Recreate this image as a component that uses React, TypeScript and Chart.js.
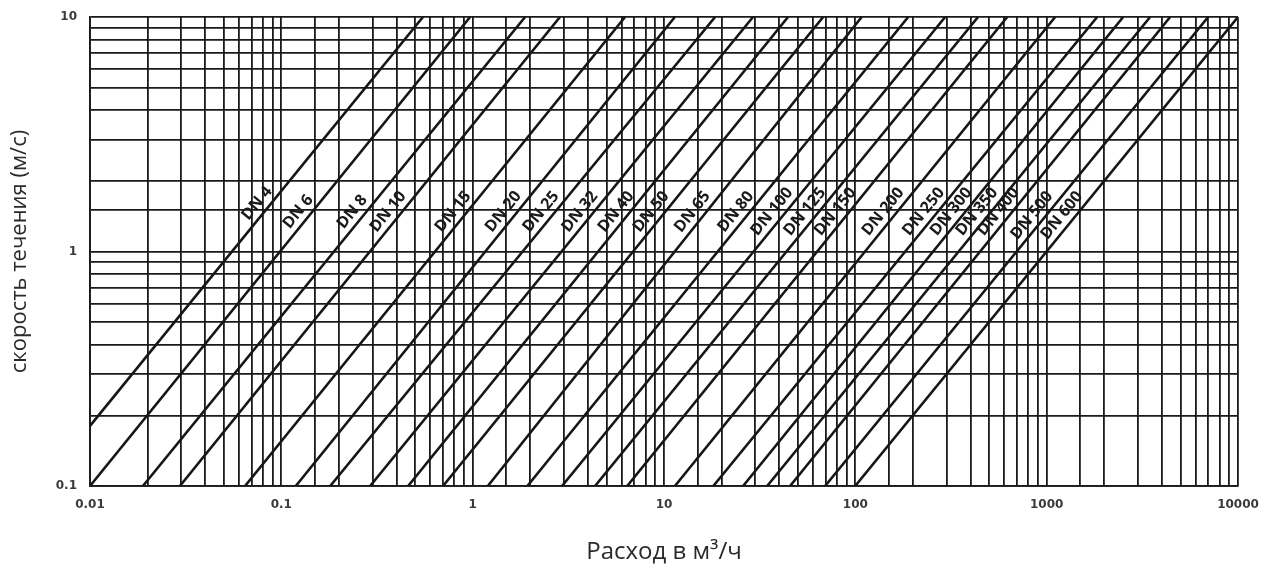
import React, { useEffect, useRef } from "react";
import { Chart, registerables } from "chart.js";

Chart.register(...registerables);

// Nominal diameters (labels of the lines)
const dnLabels = [
  "DN 4", "DN 6", "DN 8", "DN 10", "DN 15", "DN 20", "DN 25", "DN 32", "DN 40", "DN 50",
  "DN 65", "DN 80", "DN 100", "DN 125", "DN 150", "DN 200", "DN 250", "DN 300", "DN 350",
  "DN 400", "DN 500", "DN 600",
];

// Flow (m³/h) read where each line meets v = 0.1 m/s
const flowAtLowVelocity = [
  0.00555, 0.0100, 0.0189, 0.0295, 0.0646, 0.119, 0.180, 0.291, 0.460, 0.700,
  1.20, 1.93, 2.93, 4.36, 6.42, 11.4, 18.1, 25.9, 34.6, 45.6, 69.5, 99.8,
];

// Flow (m³/h) read where each line meets v = 10 m/s
const flowAtHighVelocity = [
  0.55, 0.97, 1.88, 2.86, 6.26, 11.4, 18.5, 29.2, 44.5, 67.9,
  108, 189, 295, 438, 622, 1108, 1837, 2512, 3475, 4422, 6987, 10000,
];

// Velocities at the two ends of each line
const velocityEnds = [0.1, 10];

// Velocity at which each DN label sits along its line
const labelVelocity = [
  1.5, 1.38, 1.38, 1.38, 1.38, 1.38, 1.38, 1.38, 1.38, 1.38,
  1.38, 1.38, 1.38, 1.38, 1.38, 1.38, 1.38, 1.38, 1.38, 1.38, 1.33, 1.33,
];

// Axis ranges
const flowAxis = [0.01, 10000];
const velocityAxis = [0.1, 10];

const xTitle = "Расход в м³/ч";
const yTitle = "скорость течения (м/с)";

const isDecade = (v: number) => {
  const l = Math.log10(v);
  return Math.abs(l - Math.round(l)) < 1e-6;
};
const fmt = (v: number) => {
  const p = Math.round(Math.log10(v));
  return p < 0 ? Math.pow(10, p).toFixed(-p) : String(Math.pow(10, p));
};

const labelPlugin = {
  id: "dnLabels",
  afterDatasetsDraw(chart: any) {
    const ctx = chart.ctx;
    const yScale = chart.scales.y;
    const area = chart.chartArea;
    chart.data.datasets.forEach((_ds: any, i: number) => {
      const meta = chart.getDatasetMeta(i);
      const p0 = meta.data[0];
      const p1 = meta.data[1];
      const yL = yScale.getPixelForValue(labelVelocity[i]);
      const t = (yL - p0.y) / (p1.y - p0.y);
      const x = p0.x + t * (p1.x - p0.x);
      const a = Math.atan2(p1.y - p0.y, p1.x - p0.x);
      const off = 11;
      const cx = x + Math.sin(a) * off;
      const cy = yL - Math.cos(a) * off;
      ctx.save();
      ctx.beginPath();
      ctx.rect(area.left, area.top, area.right - area.left, area.bottom - area.top);
      ctx.clip();
      ctx.translate(cx, cy);
      ctx.rotate(a);
      ctx.font = "bold 16px Open Sans, sans-serif";
      ctx.fillStyle = "#1a1a1a";
      ctx.textAlign = "center";
      ctx.textBaseline = "middle";
      ctx.fillText(dnLabels[i], 0, 0);
      ctx.restore();
    });
  },
};

const noOverflow = (s: any) => {
  s.paddingLeft = 0;
  s.paddingRight = 0;
  s.paddingTop = 0;
  s.paddingBottom = 0;
};

export default function App() {
  const ref = useRef<HTMLCanvasElement | null>(null);

  useEffect(() => {
    if (!ref.current) return;
    const datasets = dnLabels.map((label, i) => ({
      label,
      data: [
        { x: flowAtLowVelocity[i], y: velocityEnds[0] },
        { x: flowAtHighVelocity[i], y: velocityEnds[1] },
      ],
      borderColor: "#161616",
      borderWidth: 2.6,
      pointRadius: 0,
      fill: false,
      tension: 0,
    }));

    const gridColor = "#1a1a1a";
    const chart = new Chart(ref.current, {
      type: "line",
      data: { datasets },
      plugins: [labelPlugin],
      options: {
        animation: false,
        responsive: false,
        devicePixelRatio: 1,
        layout: { padding: { top: 17, right: 25, left: 0, bottom: 0 } },
        plugins: {
          legend: { display: false },
          tooltip: { enabled: false },
        },
        scales: {
          x: {
            type: "logarithmic",
            min: flowAxis[0],
            max: flowAxis[1],
            afterFit: (s: any) => { s.height = 81; noOverflow(s); },
            border: { display: true, color: gridColor, width: 1.8 },
            grid: { color: gridColor, lineWidth: 1.8, drawTicks: false },
            ticks: {
              autoSkip: false,
              maxRotation: 0,
              padding: 12,
              color: "#3a3a3a",
              font: { family: "DejaVu Sans, sans-serif", size: 12, weight: "bold" },
              callback: (v: any) => (isDecade(Number(v)) ? fmt(Number(v)) : ""),
            },
            title: {
              display: true,
              text: xTitle,
              color: "#2a2a2a",
              font: { family: "Open Sans, sans-serif", size: 24, weight: "normal", lineHeight: 1.2 },
              padding: { top: 0, bottom: 0 },
            },
          },
          y: {
            type: "logarithmic",
            min: velocityAxis[0],
            max: velocityAxis[1],
            afterFit: (s: any) => { s.width = 90; noOverflow(s); },
            border: { display: true, color: gridColor, width: 1.8 },
            grid: { color: gridColor, lineWidth: 1.8, drawTicks: false },
            ticks: {
              autoSkip: false,
              padding: 13,
              color: "#3a3a3a",
              font: { family: "DejaVu Sans, sans-serif", size: 12, weight: "bold" },
              callback: (v: any) => (isDecade(Number(v)) ? fmt(Number(v)) : ""),
            },
            title: {
              display: true,
              text: yTitle,
              color: "#2a2a2a",
              font: { family: "Open Sans, sans-serif", size: 22, weight: "normal", lineHeight: 1.2 },
              padding: { top: 7, bottom: 0 },
            },
          },
        },
      } as any,
    });
    return () => chart.destroy();
  }, []);

  return (
    <div style={{ position: "absolute", left: 0, top: 0, width: 1263, height: 567, background: "#fff" }}>
      <canvas ref={ref} width={1263} height={567} style={{ display: "block" }} />
    </div>
  );
}
